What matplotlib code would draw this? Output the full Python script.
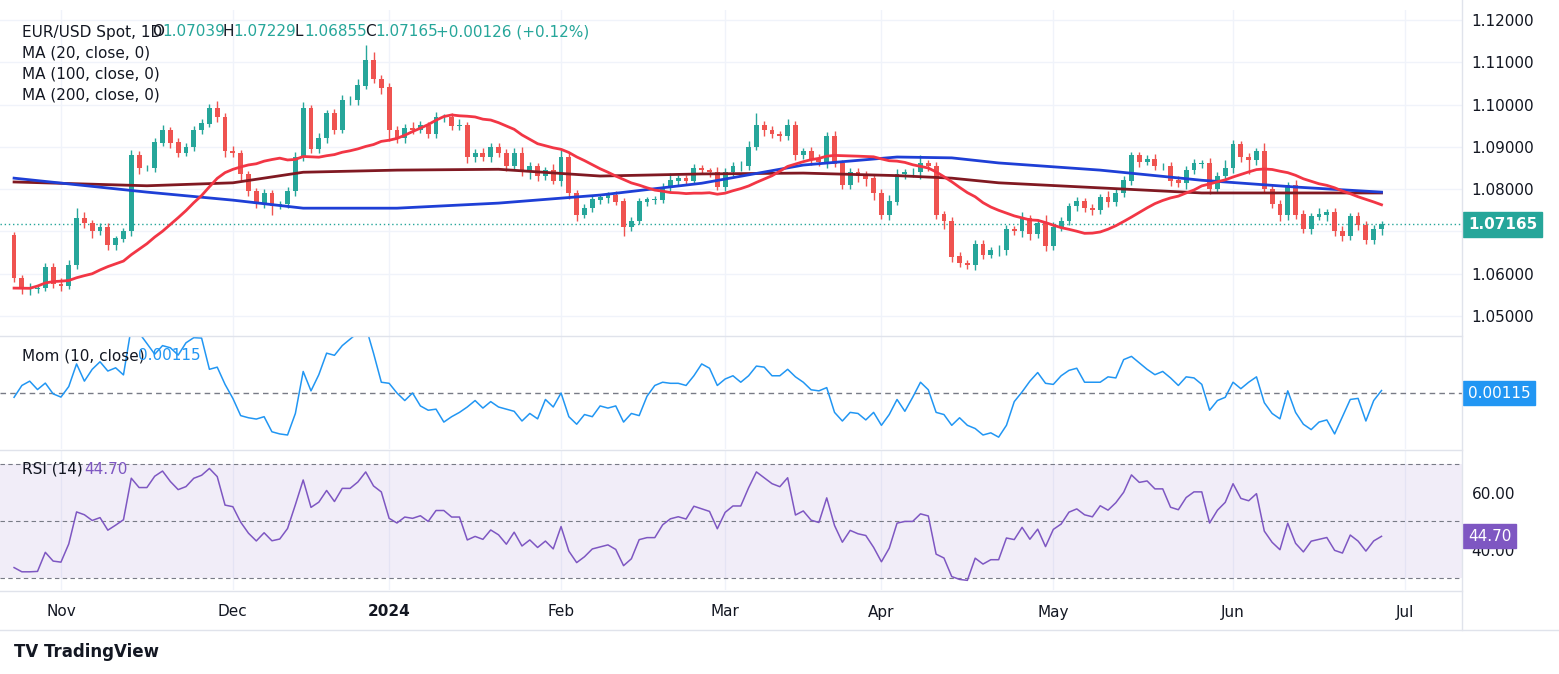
import numpy as np
import pandas as pd
from matplotlib import pyplot as plt

# closes before the visible window (warm-up for MA20 / Mom / RSI)
pre_closes = [1.0570, 1.0500, 1.0570, 1.0570, 1.0460, 1.0470, 1.0510, 1.0550, 1.0590, 1.0600,
              1.0620, 1.0610, 1.0530, 1.0510, 1.0550, 1.0570, 1.0580, 1.0590, 1.0590, 1.0595, 1.0665]
first_open = 1.0690

# visible daily closes, Oct 24 2023 .. Jun 28 2024
closes = [
    1.0590, 1.0565, 1.0565, 1.0566, 1.0616, 1.0576,
    1.0571, 1.0620, 1.0730, 1.0720, 1.0700, 1.0710, 1.0667, 1.0683, 1.0700, 1.0880, 1.0850,
    1.0850, 1.0910, 1.0940, 1.0910, 1.0886, 1.0900, 1.0940, 1.0955, 1.0990, 1.0970, 1.0890,
    1.0885, 1.0835, 1.0795, 1.0765, 1.0790, 1.0760, 1.0765, 1.0795, 1.0875, 1.0990, 1.0895,
    1.0920, 1.0980, 1.0940, 1.1010, 1.1010, 1.1045, 1.1105, 1.1060, 1.1040,
    1.0940, 1.0920, 1.0945, 1.0940, 1.0950, 1.0930, 1.0970, 1.0970, 1.0950, 1.0950, 1.0875,
    1.0885, 1.0875, 1.0900, 1.0885, 1.0855, 1.0885, 1.0840, 1.0855, 1.0830, 1.0845, 1.0820,
    1.0875, 1.0790, 1.0740, 1.0755, 1.0775, 1.0780, 1.0785, 1.0770, 1.0710, 1.0725, 1.0770,
    1.0775, 1.0775, 1.0805, 1.0820, 1.0825, 1.0820, 1.0850, 1.0845, 1.0840, 1.0805,
    1.0840, 1.0855, 1.0855, 1.0900, 1.0950, 1.0940, 1.0930, 1.0925, 1.0950, 1.0880, 1.0890,
    1.0870, 1.0865, 1.0925, 1.0860, 1.0810, 1.0840, 1.0830, 1.0825, 1.0790,
    1.0740, 1.0770, 1.0835, 1.0840, 1.0840, 1.0860, 1.0855, 1.0740, 1.0725, 1.0640, 1.0625,
    1.0620, 1.0670, 1.0645, 1.0655, 1.0655, 1.0705, 1.0700, 1.0730, 1.0695, 1.0720, 1.0665,
    1.0710, 1.0725, 1.0760, 1.0770, 1.0755, 1.0750, 1.0780, 1.0770, 1.0790, 1.0820, 1.0880,
    1.0865, 1.0870, 1.0855, 1.0855, 1.0820, 1.0815, 1.0845, 1.0860, 1.0860, 1.0800, 1.0830, 1.0850,
    1.0905, 1.0875, 1.0870, 1.0890, 1.0800, 1.0765, 1.0740, 1.0810, 1.0740, 1.0705,
    1.0735, 1.0740, 1.0745, 1.0700, 1.0690, 1.0735, 1.0715, 1.0680, 1.0705, 1.07165,
]
# wick extents in pips above max(open, close) and below min(open, close)
wick_up = [8, 6, 12, 7, 10, 9, 14, 12, 25, 15, 8, 9, 10, 7, 9, 12, 10, 8, 12, 12, 8, 10, 8,
           9, 10, 12, 18, 10, 12, 8, 9, 8, 10, 7, 8, 9, 12, 15, 10, 12, 8, 9, 12, 10, 15, 35,
           20, 10, 12, 10, 8, 14, 10, 8, 12, 8, 10, 15, 9, 10, 12, 8, 9, 10, 12, 14, 10, 6, 8,
           15, 20, 12, 8, 10, 9, 7, 8, 10, 8, 10, 9, 7, 9, 10, 18, 8, 9, 10, 8, 6, 12, 10, 9, 12,
           15, 30, 12, 10, 8, 15, 10, 8, 9, 12, 10, 12, 8, 9, 10, 12, 8, 10, 15, 12, 8, 10, 20,
           10, 9, 8, 10, 12, 8, 10, 9, 8, 12, 10, 9, 15, 8, 10, 18, 12, 10, 8, 12, 9, 10, 8, 15,
           12, 10, 8, 9, 10, 12, 8, 9, 10, 10, 12, 8, 14, 10, 20, 12, 8, 10, 8, 20, 12, 10, 8,
           12, 10, 9, 15, 8, 10, 12, 8, 10, 9, 11, 8, 10, 12, 9]
wick_dn = [10, 12, 15, 10, 8, 9, 12, 8, 10, 12, 15, 8, 10, 12, 9, 10, 14, 8, 10, 9, 12, 10,
           8, 10, 9, 8, 12, 14, 10, 15, 12, 10, 9, 20, 8, 10, 12, 8, 10, 9, 12, 10, 8, 10, 12,
           8, 10, 14, 25, 10, 12, 9, 8, 10, 8, 12, 10, 9, 12, 10, 8, 10, 9, 12, 10, 8, 15, 10,
           9, 8, 12, 14, 15, 8, 9, 10, 12, 8, 20, 10, 8, 9, 10, 8, 12, 10, 9, 8, 10, 12, 8, 10,
           9, 12, 10, 8, 14, 10, 12, 9, 10, 8, 12, 10, 15, 8, 10, 9, 12, 18, 15, 10, 12, 8, 10,
           12, 15, 12, 10, 20, 12, 10, 9, 12, 10, 8, 12, 10, 9, 12, 15, 10, 12, 9, 8, 10, 12, 8,
           10, 9, 12, 10, 8, 10, 12, 8, 10, 9, 12, 10, 15, 8, 10, 12, 10, 14, 12, 10, 35, 12,
           10, 9, 15, 12, 10, 8, 10, 9, 15, 10, 12, 10, 12, 9, 10, 14, 8, 11]

# MA100 / MA200 read at bar indices
ma_idx = [0, 17, 28, 37, 49, 62, 75, 88, 101, 113, 120, 126, 139, 152, 164, 175]
ma100 = [1.0826, 1.0793, 1.0774, 1.0755, 1.0755, 1.0767, 1.0786, 1.0814, 1.0857, 1.0876,
         1.0874, 1.0862, 1.0845, 1.0821, 1.0805, 1.0793]
ma200 = [1.0817, 1.0808, 1.0815, 1.0840, 1.0845, 1.0847, 1.0831, 1.0836, 1.0838, 1.0832,
         1.0826, 1.0815, 1.0803, 1.0791, 1.0791, 1.0791]

month_labels = ["Nov", "Dec", "2024", "Feb", "Mar", "Apr", "May", "Jun", "Jul"]
month_idx = [6, 28, 48, 70, 91, 111, 133, 156, 178]

price_ticks = [1.05, 1.06, 1.07, 1.08, 1.09, 1.10, 1.11, 1.12]
rsi_ticks = [40, 60]

UP, DN = "#26a69a", "#ef5350"
GRID = "#f0f3fa"
W, H = 1559, 674

n = len(closes)
allc = pd.Series(pre_closes + closes)
opens = np.array([first_open] + closes[:-1])
cl = np.array(closes)
wu = np.array(wick_up[:n], dtype=float)
wd = np.array(wick_dn[:n], dtype=float)
hi = np.maximum(opens, cl) + wu * 1e-4
lo = np.minimum(opens, cl) - wd * 1e-4
k = len(pre_closes)
ma20 = allc.rolling(20).mean().values[k:]
mom = (allc - allc.shift(10)).values[k:]
d = allc.diff()
gain = d.clip(lower=0).ewm(alpha=1 / 14, adjust=False).mean()
loss = (-d.clip(upper=0)).ewm(alpha=1 / 14, adjust=False).mean()
rsi = (100 - 100 / (1 + gain / loss)).values[k:]
x = np.arange(n)

fig = plt.figure(figsize=(W / 100, H / 100), dpi=100)


def rect(x0, y0, x1, y1):
    return [x0 / W, 1 - y1 / H, (x1 - x0) / W, (y1 - y0) / H]


xl = (-1.8, 185.3)
ax = fig.add_axes(rect(0, 10, 1462, 336))
axm = fig.add_axes(rect(0, 337, 1462, 449), sharex=ax)
axr = fig.add_axes(rect(0, 450, 1462, 590), sharex=ax)
for a in (ax, axm, axr):
    a.set_xlim(*xl)
    for sp in a.spines.values():
        sp.set_visible(False)
    a.tick_params(left=False, bottom=False, labelbottom=False, labelleft=False,
                  right=False, labelright=True, labelsize=11, labelcolor="#131722")
    for m in month_idx:
        a.axvline(m, color=GRID, lw=1, zorder=0)
for yy in (336.5, 449.5, 590.5, 630):
    fig.add_artist(plt.Line2D([0, 1 if yy == 630 else 1462 / W], [1 - yy / H] * 2,
                              color="#e0e3eb", lw=1))
fig.add_artist(plt.Line2D([1462 / W] * 2, [1 - 630 / H, 1], color="#e0e3eb", lw=1))

# price panel
ax.set_ylim(1.04527, 1.12237)
ax.set_yticks(price_ticks)
ax.set_yticklabels([f"{t:.5f}" for t in price_ticks])
for t in price_ticks:
    ax.axhline(t, color=GRID, lw=1, zorder=0)
colors = np.where(cl >= opens, UP, DN)
ax.vlines(x, lo, hi, color=colors, lw=1, zorder=2)
ax.bar(x, np.abs(cl - opens) + 0.00008, bottom=np.minimum(opens, cl), width=0.62,
       color=colors, zorder=3)
ax.plot(ma_idx, ma200, color="#801922", lw=2, zorder=4)
ax.plot(ma_idx, ma100, color="#1e3fd6", lw=2, zorder=4)
ax.plot(x, ma20, color="#f23645", lw=2, zorder=5)
ax.axhline(closes[-1], color=UP, lw=1, ls=(0, (1, 2)), zorder=1)
ax.text(1.0 + 6 / 1462, closes[-1], f"{closes[-1]:.5f}", transform=ax.get_yaxis_transform(),
        color="white", fontsize=11, fontweight="bold", va="center", ha="left",
        bbox=dict(boxstyle="square,pad=0.3", fc=UP, ec=UP), zorder=10, clip_on=False)

# momentum panel
axm.set_ylim(-0.026, 0.026)
axm.set_yticks([])
axm.axhline(0, color="#787b86", lw=1, ls=(0, (4, 3)))
axm.plot(x, mom, color="#2196f3", lw=1.1)
axm.text(1.0 + 6 / 1462, 0, f"{mom[-1]:.5f}", transform=axm.get_yaxis_transform(),
         color="white", fontsize=11, va="center", ha="left", clip_on=False,
         bbox=dict(boxstyle="square,pad=0.3", fc="#2196f3", ec="#2196f3"))

# RSI panel
axr.set_ylim(25.8, 75.1)
axr.set_yticks(rsi_ticks)
axr.set_yticklabels([f"{t:.2f}" for t in rsi_ticks])
axr.axhspan(30, 70, color="#7e57c2", alpha=0.1, lw=0)
for lv in (30, 50, 70):
    axr.axhline(lv, color="#787b86", lw=0.8, ls=(0, (4, 3)))
axr.plot(x, rsi, color="#7e57c2", lw=1.1)
axr.text(1.0 + 6 / 1462, rsi[-1], f"{rsi[-1]:.2f}", transform=axr.get_yaxis_transform(),
         color="white", fontsize=11, va="center", ha="left", clip_on=False,
         bbox=dict(boxstyle="square,pad=0.3", fc="#7e57c2", ec="#7e57c2"))

# month labels
for m, lab in zip(month_idx, month_labels):
    fig.text((m - xl[0]) / (xl[1] - xl[0]) * 1462 / W, 1 - 612 / H, lab, ha="center",
             va="center", fontsize=11, color="#131722",
             fontweight="bold" if lab == "2024" else "normal")

# legends
fs = 11
fig.text(22 / W, 1 - 32 / H, "EUR/USD Spot, 1D", fontsize=fs, va="center", color="#131722")
hdr = [("O", "1.07039"), ("H", "1.07229"), ("L", "1.06855"), ("C", "1.07165")]
xp = 152
for lab, val in hdr:
    fig.text(xp / W, 1 - 32 / H, lab, fontsize=fs, va="center", color="#131722")
    fig.text((xp + 10) / W, 1 - 32 / H, val, fontsize=fs, va="center", color=UP)
    xp += 71
fig.text(xp / W, 1 - 32 / H, "+0.00126 (+0.12%)", fontsize=fs, va="center", color=UP)
for i, lab in enumerate(["MA (20, close, 0)", "MA (100, close, 0)", "MA (200, close, 0)"]):
    fig.text(22 / W, 1 - (53 + 21 * i) / H, lab, fontsize=fs, va="center", color="#131722")
fig.text(22 / W, 1 - 356 / H, "Mom (10, close)", fontsize=fs, va="center", color="#131722")
fig.text(138 / W, 1 - 356 / H, f"{mom[-1]:.5f}", fontsize=fs, va="center", color="#2196f3")
fig.text(22 / W, 1 - 469 / H, "RSI (14)", fontsize=fs, va="center", color="#131722")
fig.text(84 / W, 1 - 469 / H, f"{rsi[-1]:.2f}", fontsize=fs, va="center", color="#7e57c2")
fig.text(14 / W, 1 - 652 / H, "TV TradingView", fontsize=12, fontweight="bold",
         va="center", color="#131722")

plt.savefig("out.png", dpi=100)
